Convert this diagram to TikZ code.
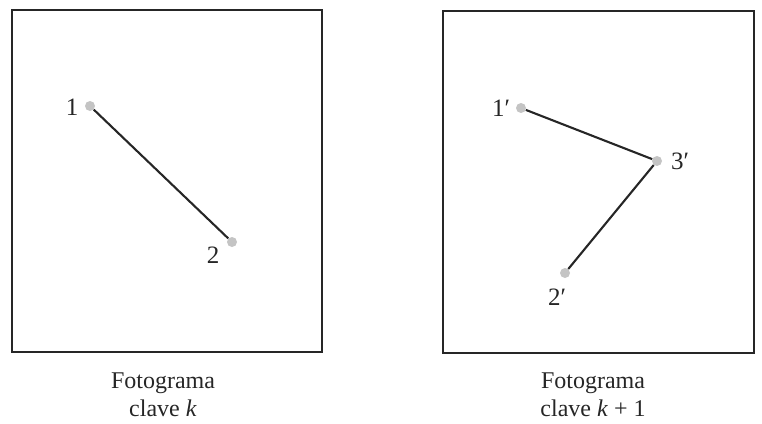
\documentclass[tikz,border=0pt]{standalone}
\usepackage{fontspec}
\setmainfont{Liberation Serif}
\definecolor{dotgray}{HTML}{C4C4C4}
\definecolor{ink}{HTML}{262626}
\begin{document}
\begin{tikzpicture}[x=1pt,y=-1pt,
  frame/.style={draw=ink,line width=1.7pt},
  dot/.style={circle,fill=dotgray,inner sep=0pt,minimum size=10pt},
  seg/.style={draw=ink,line width=2.1pt},
  lbl/.style={font=\fontsize{25}{28}\selectfont,text=ink,inner sep=0pt},
  captext/.style={font=\fontsize{24}{28}\selectfont,text=ink,align=center,inner sep=0pt}]
\useasboundingbox (0,0) rectangle (762,423);
% frames
\node[frame,minimum width=310pt,minimum height=342pt,inner sep=0pt] (f1) at (167,181) {};
\node[frame,minimum width=311pt,minimum height=342pt,inner sep=0pt] (f2) at (598.5,182) {};
% left frame points
\node[dot] (a1) at (90,106) {};
\node[dot] (a2) at (232,242) {};
\draw[seg] (a1) -- (a2);
\node[lbl] (la1) at (72,107) {1};
\node[lbl] (la2) at (213,255) {2};
% right frame points
\node[dot] (b1) at (521,108) {};
\node[dot] (b3) at (657,161) {};
\node[dot] (b2) at (565,273) {};
\draw[seg] (b1) -- (b3) -- (b2);
\node[lbl] (lb1) at (501,108) {1′};
\node[lbl] (lb3) at (680,161) {3′};
\node[lbl] (lb2) at (557,297) {2′};
% captions
\node[captext] (c1) at (163,395) {Fotograma\\clave \textit{k}};
\node[captext] (c2) at (593,395) {Fotograma\\clave \textit{k} + 1};
\end{tikzpicture}
\end{document}
